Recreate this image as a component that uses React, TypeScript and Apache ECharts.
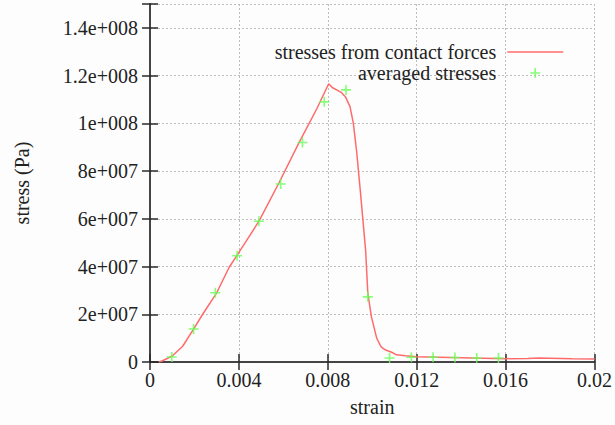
import React, { useEffect, useRef } from "react";
import * as echarts from "echarts";

const contactStrain = [0.0004, 0.00054, 0.001, 0.00147, 0.00196, 0.00237, 0.003, 0.00357, 0.0039, 0.00491, 0.0058, 0.0067, 0.0075, 0.00804, 0.0082, 0.0084, 0.0086, 0.0088, 0.009, 0.00915, 0.0093, 0.00946, 0.0097, 0.0098, 0.00996, 0.0102, 0.0104, 0.0106, 0.01085, 0.0111, 0.0115, 0.012, 0.013, 0.014, 0.015, 0.016, 0.017, 0.0175, 0.018, 0.019, 0.02];
const contactStress = [0, 0.4e6, 2.5e6, 6.6e6, 1.38e7, 2.0e7, 2.9e7, 3.98e7, 4.45e7, 5.91e7, 7.5e7, 9.18e7, 1.06e8, 1.166e8, 1.15e8, 1.14e8, 1.13e8, 1.11e8, 1.07e8, 1.0e8, 8.8e7, 7.2e7, 4.7e7, 2.9e7, 1.9e7, 1.0e7, 6.3e6, 5.0e6, 4.2e6, 3.0e6, 2.6e6, 2.2e6, 2.0e6, 1.8e6, 1.6e6, 1.4e6, 1.5e6, 1.7e6, 1.6e6, 1.4e6, 1.3e6];

const avgStrain = [0.00098, 0.00196, 0.00294, 0.00392, 0.0049, 0.00588, 0.00686, 0.00784, 0.00882, 0.0098, 0.01078, 0.01176, 0.01274, 0.01372, 0.0147, 0.01568];
const avgStress = [2.1e6, 1.38e7, 2.9e7, 4.45e7, 5.9e7, 7.46e7, 9.2e7, 1.09e8, 1.14e8, 2.73e7, 1.7e6, 2.0e6, 2.0e6, 1.9e6, 1.7e6, 1.7e6];

const xTickValues = [0, 0.004, 0.008, 0.012, 0.016, 0.02];
const xTickLabels = ["0", "0.004", "0.008", "0.012", "0.016", "0.02"];
const yTickValues = [0, 2e7, 4e7, 6e7, 8e7, 1e8, 1.2e8, 1.4e8];
const yTickLabels = ["0", "2e+007", "4e+007", "6e+007", "8e+007", "1e+008", "1.2e+008", "1.4e+008"];

const seriesNames = ["stresses from contact forces", "averaged stresses"];

const FONT = "'Liberation Serif', 'DejaVu Serif', serif";
const FS = 20;
const plusPath = "path://M4.2,0H5.8V4.2H10V5.8H5.8V10H4.2V5.8H0V4.2H4.2Z";
const RED = "#ff6b6b";
const GREEN = "#66ff55";

function labelFor(values: number[], labels: string[], v: number) {
  for (let i = 0; i < values.length; i++) {
    if (Math.abs(values[i] - v) < Math.abs(values[values.length - 1]) * 1e-6 + 1e-12) return labels[i];
  }
  return "";
}

export default function App() {
  const ref = useRef<HTMLDivElement>(null);
  useEffect(() => {
    document.body.style.margin = "0";
    if (!ref.current) return;
    const chart = echarts.init(ref.current, undefined, { renderer: "svg" });
    const axisLine = { show: true, lineStyle: { color: "#3a3a3a", width: 1.5 } };
    const axisTick = { show: true, inside: true, length: 8, lineStyle: { color: "#2a2a2a", width: 1.5 } };
    const split = { show: true, lineStyle: { color: "#bdbdbd", type: [2, 2] as any, width: 1 } };
    const xBase = { type: "value" as const, min: 0, max: 0.02, interval: 0.004 };
    const yBase = { type: "value" as const, min: 0, max: 1.5e8, interval: 2e7 };
    chart.setOption({
      animation: false,
      backgroundColor: "#fdfdfd",
      textStyle: { fontFamily: FONT },
      grid: { left: 150, right: 17, top: 4, bottom: 63 },
      legend: {
        orient: "vertical",
        align: "right",
        right: 46,
        top: 37,
        itemWidth: 56,
        itemHeight: 10,
        itemGap: 1,
        selectedMode: false,
        data: [
          {
            name: seriesNames[0],
            itemStyle: { color: "rgba(0,0,0,0)", borderWidth: 0, opacity: 0 },
            lineStyle: { color: RED, width: 1.5 },
          },
          { name: seriesNames[1] },
        ],
        textStyle: { fontFamily: FONT, fontSize: FS, color: "#222", padding: [0, 6, 0, 0] },
      },
      xAxis: [
        {
          ...xBase,
          position: "bottom",
          name: "strain",
          nameLocation: "middle",
          nameGap: 35,
          nameTextStyle: { fontFamily: FONT, fontSize: FS, color: "#222" },
          axisLine,
          axisTick,
          splitLine: split,
          axisLabel: {
            fontFamily: FONT,
            fontSize: FS,
            color: "#222",
            margin: 8,
            formatter: (v: number) => labelFor(xTickValues, xTickLabels, v),
          },
        },
        {
          ...xBase,
          position: "top",
          axisLine,
          axisTick,
          splitLine: { show: false },
          axisLabel: { show: false },
        },
      ],
      yAxis: [
        {
          ...yBase,
          position: "left",
          name: "stress (Pa)",
          nameLocation: "middle",
          nameGap: 118,
          nameTextStyle: { fontFamily: FONT, fontSize: FS, color: "#222" },
          axisLine,
          axisTick,
          splitLine: split,
          axisLabel: {
            fontFamily: FONT,
            fontSize: FS,
            color: "#222",
            margin: 12,
            formatter: (v: number) => labelFor(yTickValues, yTickLabels, v),
          },
        },
        {
          ...yBase,
          position: "right",
          axisLine,
          axisTick,
          splitLine: { show: false },
          axisLabel: { show: false },
        },
      ],
      series: [
        {
          name: seriesNames[0],
          type: "line",
          xAxisIndex: 0,
          yAxisIndex: 0,
          symbol: "none",
          lineStyle: { color: RED, width: 1.5 },
          itemStyle: { color: RED },
          data: contactStrain.map((x, i) => [x, contactStress[i]]),
          z: 3,
        },
        {
          name: seriesNames[1],
          type: "scatter",
          xAxisIndex: 0,
          yAxisIndex: 0,
          symbol: plusPath,
          symbolSize: 10,
          itemStyle: { color: GREEN },
          data: avgStrain.map((x, i) => [x, avgStress[i]]),
          z: 4,
        },
      ],
    });
    return () => chart.dispose();
  }, []);
  return <div ref={ref} style={{ width: 615, height: 425 }} />;
}
